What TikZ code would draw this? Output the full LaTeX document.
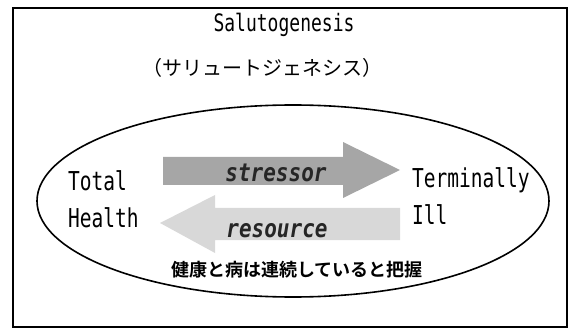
\documentclass[tikz,border=0pt]{standalone}
\usepackage{fontspec}
\newfontfamily\lat[FakeStretch=0.75]{DejaVu Sans Mono}
\newfontfamily\latbi[FakeStretch=0.84]{DejaVu Sans Mono}
\newfontfamily\jp[BoldFont={Noto Sans CJK JP Bold}]{Noto Sans CJK JP}
\definecolor{stressgray}{HTML}{A6A6A6}
\definecolor{resgray}{HTML}{D8D8D8}
\tikzset{
  lbl/.style={inner sep=0pt, anchor=base west, font=\lat\fontsize{26}{26}\selectfont},
  arrtxt/.style={inner sep=0pt, anchor=base, font=\latbi\bfseries\itshape\fontsize{25}{25}\selectfont, text=black!85},
  frame/.style={draw=black, line width=1.4pt},
}
\begin{document}
\begin{tikzpicture}[x=1pt,y=-1pt]
\useasboundingbox (0,0) rectangle (570,331);
\draw[frame] (13,8) rectangle (567,327);
\node[inner sep=0pt, font=\lat\fontsize{24}{24}\selectfont] (title) at (284,25) {Salutogenesis};
\node[inner sep=0pt, font=\jp\fontsize{20}{20}\selectfont] (kana) at (262,68) {（サリュートジェネシス）};
\draw[line width=1.6pt] (293,201) ellipse [x radius=256, y radius=96];
% stressor arrow
\fill[stressgray] (163,157) -- (343,157) -- (343,142) -- (400,170) -- (343,198) -- (343,185) -- (163,185) -- cycle;
% resource arrow
\fill[resgray] (400,208) -- (215,208) -- (215,195) -- (160,223) -- (215,253) -- (215,240) -- (400,240) -- cycle;
\node[arrtxt] (stressor) at (276,182) {stressor};
\node[arrtxt] (resource) at (277,237) {resource};
\node[lbl] (total) at (68,191) {Total};
\node[lbl] (health) at (68,227) {Health};
\node[lbl] (term) at (412,188) {Terminally};
\node[lbl] (ill) at (412,224) {Ill};
\node[inner sep=0pt, font=\jp\bfseries\fontsize{18}{18}\selectfont] (cont) at (297,270) {健康と病は連続していると把握};
\end{tikzpicture}
\end{document}
